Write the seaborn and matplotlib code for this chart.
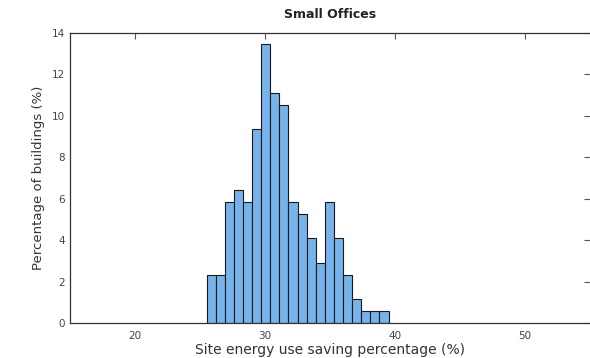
import matplotlib
matplotlib.use("Agg")
import matplotlib.pyplot as plt
import seaborn as sns
import numpy as np
import pandas as pd

# Data
bin_start = 25.5
bin_width = 0.7
percent_buildings = [2.34, 2.34, 5.85, 6.43, 5.85, 9.36, 13.45, 11.11, 10.53, 5.85,
                     5.26, 4.09, 2.92, 5.85, 4.09, 2.34, 1.17, 0.58, 0.58, 0.58]
x_ticks = [20, 30, 40, 50]
y_ticks = [0, 2, 4, 6, 8, 10, 12, 14]
title = "Small Offices"
x_label = "Site energy use saving percentage (%)"
y_label = "Percentage of buildings (%)"

sns.set_style("white")
plt.rcParams['font.family'] = ['DejaVu Sans']

n = len(percent_buildings)
bin_end = bin_start + bin_width * n
centers = bin_start + bin_width * (np.arange(n) + 0.5)
df = pd.DataFrame({"saving": centers, "pct": percent_buildings})

fig = plt.figure(figsize=(5.9, 3.58), dpi=100)
ax = fig.add_axes([70/590, 1 - 323/358, 520/590, 290/358])
sns.histplot(data=df, x="saving", weights="pct", bins=n, binrange=(bin_start, bin_end),
             ax=ax, color="#78b2ea", alpha=1.0, edgecolor="#1a1a1a", linewidth=0.8)

ax.set_xlim(15, 55)
ax.set_ylim(0, 14)
ax.set_xticks(x_ticks)
ax.set_yticks(y_ticks)
ax.tick_params(direction="in", length=4, width=0.8, colors="#555555",
               labelsize=7.5, top=True, right=True, labelcolor="#444444")
ax.tick_params(axis="x", pad=6)
for s in ["left", "bottom", "top"]:
    ax.spines[s].set_color("#333333")
    ax.spines[s].set_linewidth(0.9)
ax.spines["right"].set_visible(False)

ax.set_xlabel(x_label, fontsize=10, color="#333333", labelpad=1)
ax.set_ylabel(y_label, fontsize=9.5, color="#333333", labelpad=5)
ax.set_title(title, fontsize=9, fontweight="bold", color="#222222", pad=11)

fig.savefig("out.png", dpi=100)
